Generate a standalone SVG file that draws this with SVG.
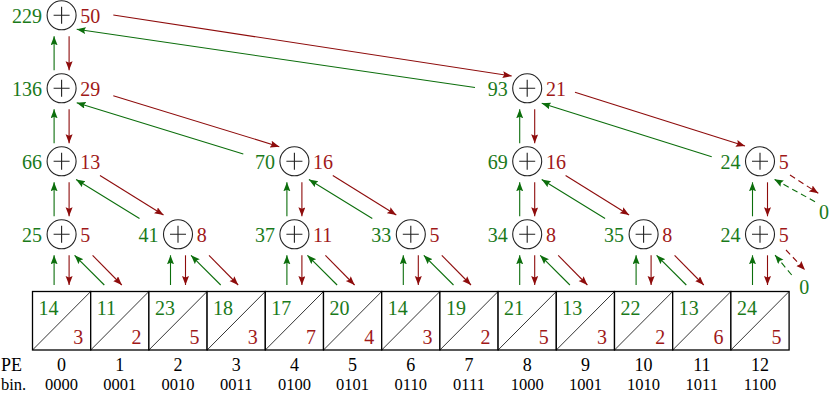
<svg xmlns="http://www.w3.org/2000/svg" width="830" height="394" viewBox="0 0 830 394" font-family="'Liberation Serif', 'DejaVu Serif', 'Times New Roman', serif">
<style>
text{font-family:"Liberation Serif","DejaVu Serif","Times New Roman",serif;}
.g{fill:#1a7a1a;font-size:20px;}
.r{fill:#a01818;font-size:20px;}
.gl{text-anchor:end;}
.k{fill:#000;}
.pe{font-size:18px;text-anchor:middle;}
.bn{font-size:16.5px;text-anchor:middle;}
.c{fill:#fff;stroke:#222;stroke-width:1.1;}
.pl{stroke:#222;stroke-width:1.1;fill:none;}
.cell{fill:#fff;stroke:#000;stroke-width:1.3;}
.dg{stroke:#000;stroke-width:0.8;}
.ag{stroke:#0c6e0c;stroke-width:1.1;fill:none;marker-end:url(#mg);}
.ar{stroke:#8e0c0c;stroke-width:1.1;fill:none;marker-end:url(#mr);}
.ds{stroke-dasharray:6 4;}
</style>
<defs>
<marker id="mg" markerUnits="userSpaceOnUse" markerWidth="10" markerHeight="8" refX="9" refY="3.5" orient="auto"><path d="M0,0 L9,3.5 L0,7 L1.5,3.5 z" fill="#0c6e0c"/></marker>
<marker id="mr" markerUnits="userSpaceOnUse" markerWidth="10" markerHeight="8" refX="9" refY="3.5" orient="auto"><path d="M0,0 L9,3.5 L0,7 L1.5,3.5 z" fill="#8e0c0c"/></marker>
</defs>

<g id="connectors">
<!-- vertical up (green) -->
<path class="ag" d="M54.1,70.3V36.3"/><path class="ag" d="M54.1,143.3V109.3"/><path class="ag" d="M54.1,216.3V182.3"/><path class="ag" d="M54.1,285V255.3"/>
<path class="ag" d="M519.7,143.3V109.3"/><path class="ag" d="M519.7,216.3V182.3"/><path class="ag" d="M519.7,285V255.3"/>
<path class="ag" d="M286.9,216.3V182.3"/><path class="ag" d="M286.9,285V255.3"/>
<path class="ag" d="M752.5,216.3V182.3"/><path class="ag" d="M752.5,285V255.3"/>
<path class="ag" d="M170.5,285V255.3"/><path class="ag" d="M403.3,285V255.3"/><path class="ag" d="M636.1,285V255.3"/>
<!-- vertical down (red) -->
<path class="ar" d="M69.1,36.3V70.3"/><path class="ar" d="M69.1,109.3V143.3"/><path class="ar" d="M69.1,182.3V216.3"/><path class="ar" d="M69.1,255.3V285"/>
<path class="ar" d="M534.7,109.3V143.3"/><path class="ar" d="M534.7,182.3V216.3"/><path class="ar" d="M534.7,255.3V285"/>
<path class="ar" d="M301.9,182.3V216.3"/><path class="ar" d="M301.9,255.3V285"/>
<path class="ar" d="M767.5,182.3V216.3"/><path class="ar" d="M767.5,255.3V285"/>
<path class="ar" d="M185.5,255.3V285"/><path class="ar" d="M418.3,255.3V285"/><path class="ar" d="M651.1,255.3V285"/>
<!-- level 0 to odd cells -->
<path class="ag" d="M104.3,285L74.6,255.3"/><path class="ar" d="M92.6,255.3L121.8,285"/>
<path class="ag" d="M220.7,285L191,255.3"/><path class="ar" d="M209,255.3L238.2,285"/>
<path class="ag" d="M337.1,285L307.4,255.3"/><path class="ar" d="M325.4,255.3L354.6,285"/>
<path class="ag" d="M453.5,285L423.8,255.3"/><path class="ar" d="M441.8,255.3L471,285"/>
<path class="ag" d="M569.9,285L540.2,255.3"/><path class="ar" d="M558.2,255.3L587.4,285"/>
<path class="ag" d="M686.3,285L656.6,255.3"/><path class="ar" d="M674.6,255.3L703.8,285"/>
<!-- level 1 to level 0 -->
<path class="ar" d="M100,175.5L163.5,215"/><path class="ag" d="M139.5,218.5L76.1,179.5"/>
<path class="ar" d="M332.8,175.5L396.3,215"/><path class="ag" d="M372.3,218.5L308.9,179.5"/>
<path class="ar" d="M565.6,175.5L629.1,215"/><path class="ag" d="M605.1,218.5L541.7,179.5"/>
<!-- level 2 to level 1 -->
<path class="ar" d="M113.3,95.7L279.3,146.7"/><path class="ag" d="M243.3,154L76.7,102.7"/>
<path class="ar" d="M575,92.3L745,146"/><path class="ag" d="M711.7,156.7L541.7,103.3"/>
<!-- level 3 to level 2 -->
<path class="ar" d="M113.3,15L511.7,76"/><path class="ag" d="M475,87.5L76.7,29.3"/>
<!-- dashed to zero -->
<path class="ar ds" d="M790,175L818.3,193.3"/><path class="ag ds" d="M815,201.7L774.3,179.3"/>
<path class="ar ds" d="M786,250L805,270"/><path class="ag ds" d="M791.7,275L775,255"/>
<text class="g" x="824" y="219" text-anchor="middle">0</text>
<text class="g" x="804.3" y="294" text-anchor="middle">0</text>
</g>

<!-- nodes -->
<g id="n3_0" transform="translate(61.6,15.3)"><circle class="c" r="14.5"/><path class="pl" d="M-8,0H8M0,-8.5V8.5"/><text class="g gl" x="-19.5" y="7.3">229</text><text class="r" x="18.7" y="7.3">50</text></g>
<g id="n2_0" transform="translate(61.6,88.3)"><circle class="c" r="14.5"/><path class="pl" d="M-8,0H8M0,-8.5V8.5"/><text class="g gl" x="-19.5" y="7.3">136</text><text class="r" x="18.7" y="7.3">29</text></g>
<g id="n2_8" transform="translate(527.2,88.3)"><circle class="c" r="14.5"/><path class="pl" d="M-8,0H8M0,-8.5V8.5"/><text class="g gl" x="-19.5" y="7.3">93</text><text class="r" x="18.7" y="7.3">21</text></g>
<g id="n1_0" transform="translate(61.6,161.3)"><circle class="c" r="14.5"/><path class="pl" d="M-8,0H8M0,-8.5V8.5"/><text class="g gl" x="-19.5" y="7.3">66</text><text class="r" x="18.7" y="7.3">13</text></g>
<g id="n1_4" transform="translate(294.4,161.3)"><circle class="c" r="14.5"/><path class="pl" d="M-8,0H8M0,-8.5V8.5"/><text class="g gl" x="-19.5" y="7.3">70</text><text class="r" x="18.7" y="7.3">16</text></g>
<g id="n1_8" transform="translate(527.2,161.3)"><circle class="c" r="14.5"/><path class="pl" d="M-8,0H8M0,-8.5V8.5"/><text class="g gl" x="-19.5" y="7.3">69</text><text class="r" x="18.7" y="7.3">16</text></g>
<g id="n1_12" transform="translate(760,161.3)"><circle class="c" r="14.5"/><path class="pl" d="M-8,0H8M0,-8.5V8.5"/><text class="g gl" x="-19.5" y="7.3">24</text><text class="r" x="18.7" y="7.3">5</text></g>
<g id="n0_0" transform="translate(61.6,234.3)"><circle class="c" r="14.5"/><path class="pl" d="M-8,0H8M0,-8.5V8.5"/><text class="g gl" x="-19.5" y="7.3">25</text><text class="r" x="18.7" y="7.3">5</text></g>
<g id="n0_2" transform="translate(178,234.3)"><circle class="c" r="14.5"/><path class="pl" d="M-8,0H8M0,-8.5V8.5"/><text class="g gl" x="-19.5" y="7.3">41</text><text class="r" x="18.7" y="7.3">8</text></g>
<g id="n0_4" transform="translate(294.4,234.3)"><circle class="c" r="14.5"/><path class="pl" d="M-8,0H8M0,-8.5V8.5"/><text class="g gl" x="-19.5" y="7.3">37</text><text class="r" x="18.7" y="7.3">11</text></g>
<g id="n0_6" transform="translate(410.8,234.3)"><circle class="c" r="14.5"/><path class="pl" d="M-8,0H8M0,-8.5V8.5"/><text class="g gl" x="-19.5" y="7.3">33</text><text class="r" x="18.7" y="7.3">5</text></g>
<g id="n0_8" transform="translate(527.2,234.3)"><circle class="c" r="14.5"/><path class="pl" d="M-8,0H8M0,-8.5V8.5"/><text class="g gl" x="-19.5" y="7.3">34</text><text class="r" x="18.7" y="7.3">8</text></g>
<g id="n0_10" transform="translate(643.6,234.3)"><circle class="c" r="14.5"/><path class="pl" d="M-8,0H8M0,-8.5V8.5"/><text class="g gl" x="-19.5" y="7.3">35</text><text class="r" x="18.7" y="7.3">8</text></g>
<g id="n0_12" transform="translate(760,234.3)"><circle class="c" r="14.5"/><path class="pl" d="M-8,0H8M0,-8.5V8.5"/><text class="g gl" x="-19.5" y="7.3">24</text><text class="r" x="18.7" y="7.3">5</text></g>

<!-- cells -->
<g id="cell0" transform="translate(32.5,291.5)"><rect class="cell" width="58.2" height="58.5"/><line class="dg" x1="0" y1="58.5" x2="58.2" y2="0"/><text class="g" x="6" y="23">14</text><text class="r gl" x="50.7" y="52">3</text></g>
<g id="cell1" transform="translate(90.7,291.5)"><rect class="cell" width="58.2" height="58.5"/><line class="dg" x1="0" y1="58.5" x2="58.2" y2="0"/><text class="g" x="6" y="23">11</text><text class="r gl" x="50.7" y="52">2</text></g>
<g id="cell2" transform="translate(148.9,291.5)"><rect class="cell" width="58.2" height="58.5"/><line class="dg" x1="0" y1="58.5" x2="58.2" y2="0"/><text class="g" x="6" y="23">23</text><text class="r gl" x="50.7" y="52">5</text></g>
<g id="cell3" transform="translate(207.1,291.5)"><rect class="cell" width="58.2" height="58.5"/><line class="dg" x1="0" y1="58.5" x2="58.2" y2="0"/><text class="g" x="6" y="23">18</text><text class="r gl" x="50.7" y="52">3</text></g>
<g id="cell4" transform="translate(265.3,291.5)"><rect class="cell" width="58.2" height="58.5"/><line class="dg" x1="0" y1="58.5" x2="58.2" y2="0"/><text class="g" x="6" y="23">17</text><text class="r gl" x="50.7" y="52">7</text></g>
<g id="cell5" transform="translate(323.5,291.5)"><rect class="cell" width="58.2" height="58.5"/><line class="dg" x1="0" y1="58.5" x2="58.2" y2="0"/><text class="g" x="6" y="23">20</text><text class="r gl" x="50.7" y="52">4</text></g>
<g id="cell6" transform="translate(381.7,291.5)"><rect class="cell" width="58.2" height="58.5"/><line class="dg" x1="0" y1="58.5" x2="58.2" y2="0"/><text class="g" x="6" y="23">14</text><text class="r gl" x="50.7" y="52">3</text></g>
<g id="cell7" transform="translate(439.9,291.5)"><rect class="cell" width="58.2" height="58.5"/><line class="dg" x1="0" y1="58.5" x2="58.2" y2="0"/><text class="g" x="6" y="23">19</text><text class="r gl" x="50.7" y="52">2</text></g>
<g id="cell8" transform="translate(498.1,291.5)"><rect class="cell" width="58.2" height="58.5"/><line class="dg" x1="0" y1="58.5" x2="58.2" y2="0"/><text class="g" x="6" y="23">21</text><text class="r gl" x="50.7" y="52">5</text></g>
<g id="cell9" transform="translate(556.3,291.5)"><rect class="cell" width="58.2" height="58.5"/><line class="dg" x1="0" y1="58.5" x2="58.2" y2="0"/><text class="g" x="6" y="23">13</text><text class="r gl" x="50.7" y="52">3</text></g>
<g id="cell10" transform="translate(614.5,291.5)"><rect class="cell" width="58.2" height="58.5"/><line class="dg" x1="0" y1="58.5" x2="58.2" y2="0"/><text class="g" x="6" y="23">22</text><text class="r gl" x="50.7" y="52">2</text></g>
<g id="cell11" transform="translate(672.7,291.5)"><rect class="cell" width="58.2" height="58.5"/><line class="dg" x1="0" y1="58.5" x2="58.2" y2="0"/><text class="g" x="6" y="23">13</text><text class="r gl" x="50.7" y="52">6</text></g>
<g id="cell12" transform="translate(730.9,291.5)"><rect class="cell" width="58.2" height="58.5"/><line class="dg" x1="0" y1="58.5" x2="58.2" y2="0"/><text class="g" x="6" y="23">24</text><text class="r gl" x="50.7" y="52">5</text></g>

<!-- labels -->
<g id="labels" class="k">
<text x="1" y="371" style="font-size:18px">PE</text>
<text x="1" y="390" style="font-size:16.5px">bin.</text>
<g class="pe">
<text x="61.6" y="371">0</text><text x="119.8" y="371">1</text><text x="178" y="371">2</text><text x="236.2" y="371">3</text><text x="294.4" y="371">4</text><text x="352.6" y="371">5</text><text x="410.8" y="371">6</text><text x="469" y="371">7</text><text x="527.2" y="371">8</text><text x="585.4" y="371">9</text><text x="643.6" y="371">10</text><text x="701.8" y="371">11</text><text x="760" y="371">12</text>
</g>
<g class="bn">
<text x="61.6" y="390">0000</text><text x="119.8" y="390">0001</text><text x="178" y="390">0010</text><text x="236.2" y="390">0011</text><text x="294.4" y="390">0100</text><text x="352.6" y="390">0101</text><text x="410.8" y="390">0110</text><text x="469" y="390">0111</text><text x="527.2" y="390">1000</text><text x="585.4" y="390">1001</text><text x="643.6" y="390">1010</text><text x="701.8" y="390">1011</text><text x="760" y="390">1100</text>
</g>
</g>
</svg>
